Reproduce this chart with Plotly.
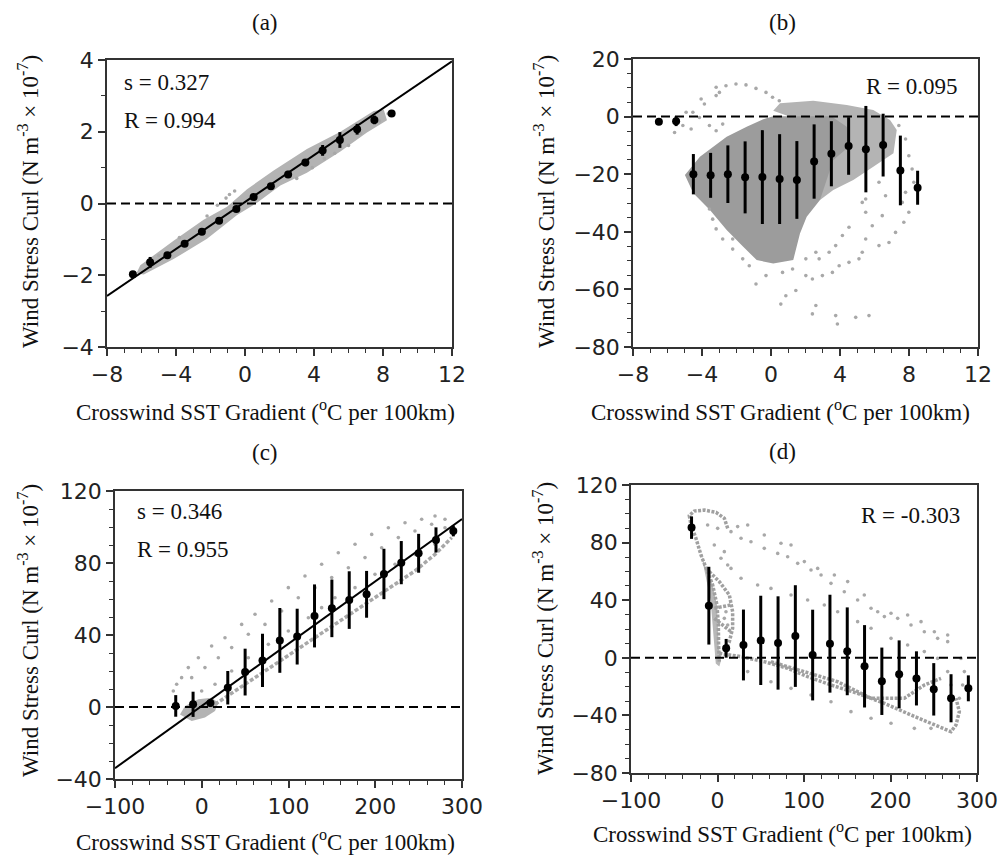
import plotly.graph_objects as go

# ---------------- Panel (a) ----------------
a_bin_x = [-6.5, -5.5, -4.5, -3.5, -2.5, -1.5, -0.5, 0.5, 1.5, 2.5, 3.5, 4.5, 5.5, 6.5, 7.5, 8.5]
a_mean = [-1.97, -1.64, -1.44, -1.12, -0.79, -0.48, -0.15, 0.18, 0.48, 0.81, 1.14, 1.48, 1.77, 2.07, 2.33, 2.51]
a_err = [0, 0.15, 0.05, 0.06, 0.07, 0.06, 0.05, 0.07, 0.07, 0.1, 0.1, 0.15, 0.22, 0.15, 0.12, 0]
a_slope, a_intercept = 0.327, 0.04
a_cloud_x = [-6.3, -6.07, -4.14, -2.40, -1.04, 0.12, 1.66, 3.59, 5.53, 7.46, 8.04,
             8.23, 7.07, 5.53, 3.59, 2.05, 0.70, -0.46, -2.20, -4.14, -5.87]
a_cloud_y = [-1.95, -1.72, -1.04, -0.45, -0.09, 0.40, 0.92, 1.52, 2.0, 2.58, 2.62,
             2.32, 1.98, 1.45, 0.86, 0.50, 0.02, -0.32, -0.98, -1.55, -1.98]
a_dots_x = [-1.1, -0.9, -0.6, -1.6, -2.2, 3.0, 3.9, 4.6, 5.2, 6.0, 6.7, 7.8, 8.3, -5.0, -3.8]
a_dots_y = [0.15, 0.25, 0.35, -0.05, -0.35, 0.70, 1.00, 1.25, 1.40, 1.62, 1.95, 2.30, 2.50, -1.45, -0.95]

# ---------------- Panel (b) ----------------
b_bin_x = [-6.5, -5.5, -4.5, -3.5, -2.5, -1.5, -0.5, 0.5, 1.5, 2.5, 3.5, 4.5, 5.5, 6.5, 7.5, 8.5]
b_mean = [-1.8, -1.6, -20.0, -20.4, -20.0, -21.1, -21.0, -21.7, -22.0, -15.6, -12.9, -10.2, -11.3, -9.9, -18.7, -24.7]
b_err = [0.5, 1.7, 7.0, 7.8, 10.0, 12.5, 16.3, 15.6, 13.5, 12.9, 11.3, 10.0, 15.0, 10.9, 12.1, 5.9]
b_halo_x = [0.13, 0.52, 2.45, 4.39, 5.93, 6.90, 7.29, 7.10, 5.93, 4.77, 3.61, 2.84, 2.50, 2.00]
b_halo_y = [2.0, 4.6, 5.5, 4.0, 2.3, -1.2, -4.65, -12.7, -17.4, -22.0, -25.5, -29.0, -15.0, -2.0]
b_dense_x = [-4.99, -4.12, -2.57, -1.41, -0.45, 0.13, 3.50, 4.39, 4.60, 3.61, 2.84, 2.07, 1.68, 1.29,
             0.13, -0.83, -1.61, -2.57, -3.54, -4.50]
b_dense_y = [-20.3, -13.9, -7.0, -3.5, -0.9, 0.1, 0.1, -3.5, -10.0, -15.1, -29.0, -34.8, -40.6, -49.8,
             -51.0, -49.8, -45.2, -39.4, -32.4, -26.6]
b_dots_x = [-3.18, -2.61, -2.03, -1.45, -0.87, -0.29, 0.09, 0.48, -4.05, -3.86, -3.18, -2.99, -4.92, -4.53,
            -4.15, -5.11, -4.63, -5.59, -3.57, -3.18, -2.80,
            7.41, 7.80, 7.99, 8.18, 8.28, 7.80, 7.61, 7.99, 7.70, 7.22, 6.84, 6.26, 6.64, 6.45, 5.87, 5.49,
            5.29, 5.10, 4.52, 3.95, 3.56, 2.98, 2.40, 2.02, 5.49, 5.49, 6.26, 5.29, 4.52, 4.14, 3.75, 3.37, 2.79,
            -0.87, -0.29, 0.67, 1.25, 2.02, 2.60, 0.86, 0.57, 1.44, 2.40, 2.60, 3.75, 3.85, 4.91, 5.68,
            -3.38, -3.18, -2.80, -2.22, -1.64, -1.26, -2.22, -3.57]
b_dots_y = [10.2, 10.7, 11.3, 11.0, 9.8, 8.4, 6.7, 5.5, 6.1, 4.4, 7.3, 8.4, 1.5, 1.5,
            -0.3, -3.1, -4.3, -5.5, -3.1, -4.9, -2.6,
            -3.1, -7.8, -13.6, -18.2, -22.8, -26.3, -29.8, -33.2, -36.7, -40.2, -43.7, -44.8, -27.5, -34.4, -37.9, -42.5,
            -47.1, -49.4, -50.6, -51.8, -54.1, -55.2, -56.4, -55.2, -28.6, -33.2, -22.8, -29.8, -38.4, -41.3, -44.8, -47.1, -49.4,
            -58.1, -55.2, -54.1, -52.9, -49.4, -47.1, -62.2, -65.1, -60.4, -68.5, -65.6, -69.1, -72.0, -69.7, -69.1,
            -35.6, -39.0, -42.5, -46.0, -49.4, -51.8, -42.5, -32.1]

# ---------------- Panel (c) ----------------
c_bin_x = [-30, -10, 10, 30, 50, 70, 90, 110, 130, 150, 170, 190, 210, 230, 250, 270, 290]
c_mean = [0.6, 1.5, 2.2, 10.7, 19.4, 25.9, 37.0, 39.1, 50.6, 54.8, 59.4, 62.6, 73.9, 80.2, 85.4, 92.8, 97.8]
c_err = [6.0, 7.0, 2.0, 9.3, 13.0, 14.8, 18.0, 15.5, 17.5, 16.0, 16.0, 13.0, 14.0, 12.0, 10.8, 7.0, 3.0]
c_slope, c_intercept = 0.346, 0.6
c_dots_x = [-32.8, -28.9, -23.2, -15.5, -3.9, 11.4, 26.8, 46.0, 61.4, 80.6, 99.8, 119.0, 138.2, 157.4, 176.7,
            195.9, 215.1, 234.3, 253.5, 268.9, 280.4,
            -11.6, 3.7, 19.1, 34.5, 53.7, 72.9, 92.1, 111.3, 130.5, 149.8, 169.0, 188.2, 207.4, 226.6, 245.8, 265.0, 280.4,
            -0.1, 15.3, 34.5, 53.7, 76.8, 99.8, 122.9, 138.2, 153.6, 176.7, 199.7, 222.8, 245.8, 268.9]
c_dots_y = [8.9, 12.6, 16.3, 21.9, 27.4, 33.9, 38.5, 45.9, 51.5, 58.9, 66.3, 72.8, 79.3, 85.7, 90.4,
            95.9, 99.6, 102.4, 104.3, 106.1, 104.3,
            16.3, 21.9, 27.4, 33.0, 40.4, 45.9, 53.3, 60.7, 66.3, 71.9, 77.4, 83.0, 88.5, 94.1, 97.8, 101.5, 99.6,
            8.9, 12.6, 20.0, 27.4, 34.8, 42.2, 49.6, 55.2, 60.7, 66.3, 73.7, 79.3, 84.8, 90.4]
c_band_x = [15.3, 38.3, 61.4, 84.4, 107.5, 130.5, 153.6, 176.7, 199.7, 222.8, 245.8, 268.9, 288.1]
c_band_y = [1.5, 8.9, 16.3, 23.7, 31.1, 38.5, 45.9, 53.3, 60.7, 68.1, 75.6, 84.8, 94.1]
c_loop_x = [-25.1, -11.6, 3.7, 15.3, 19.1, 11.4, -3.9, -19.3]
c_loop_y = [-4.1, -7.8, -5.9, -2.2, 2.4, 5.2, 4.3, 0.6]

# ---------------- Panel (d) ----------------
d_bin_x = [-30, -10, 10, 30, 50, 70, 90, 110, 130, 150, 170, 190, 210, 230, 250, 270, 290]
d_mean = [90.4, 36.2, 6.6, 8.9, 12.1, 10.3, 15.1, 1.9, 9.8, 4.5, -5.9, -16.3, -11.5, -14.3, -21.9, -28.1, -21.2]
d_err = [7.8, 27.0, 6.5, 24.6, 31.0, 32.4, 35.3, 31.5, 34.0, 30.5, 28.6, 23.4, 23.6, 18.8, 18.2, 16.7, 9.0]
d_curve_x = [11.8, 7.9, -1.7, -15.2, -26.8, -32.6, -30.6, -24.9, -19.1, -13.3, -5.6, -0.6, 1.0, 1.3, 2.1, None,
             -13.3, 2.1, 13.7, 17.5, 17.5, 13.7, 7.9, None,
             -3.7, 15.6, None, -3.7, 15.6, None,
             2.1, 27.2, 54.1, 81.1, 104.2, 131.2, 162.0, 192.9, 223.7, 250.7, 269.9, 275.7, 279.6, 275.7, None,
             61.8, 100.4, 138.9, 177.5, 216.0, 239.1, 258.4]
d_curve_y = [89.9, 96.9, 101.0, 102.6, 101.9, 98.7, 92.2, 83.0, 71.4, 62.1, 50.6, 36.7, 22.8, 8.9, -2.7, None,
             62.1, 52.9, 43.6, 32.0, 20.5, 11.2, 4.3, None,
             34.4, 36.7, None, 27.4, 18.1, None,
             3.1, 0.8, -2.7, -7.3, -13.1, -18.9, -24.7, -31.6, -39.7, -46.7, -51.3, -46.7, -37.4, -28.1, None,
             -2.7, -9.6, -16.6, -28.1, -28.1, -18.9, -14.3]
d_dense_x = [-30.6, -24.9, -13.3, -5.6, -0.6, 1.3, 4.0, 2.1, -2.0, -5.0, -8.0, -20.0]
d_dense_y = [92.2, 83.0, 62.1, 50.6, 36.7, 8.9, -2.0, -6.0, -4.0, 20.0, 40.0, 75.0]
d_dots_x = [15.6, 27.2, 38.7, 54.1, 69.6, 81.1, 92.7, 108.1, 119.7, 131.2, 146.6, 162.0, 177.5, 192.9, 208.3,
            223.7, 239.1, 254.5, 266.1,
            -11.4, 0.2, 23.3, 34.9, 54.1, 73.4, 85.0, 100.4, 115.8, 135.1, 150.5, 169.7, 185.2, 200.6, 219.8,
            235.3, 250.7, 266.1, 281.5, 285.4, 283.4, 279.6,
            -3.7, 4.0, 15.6, 27.2, 46.4, 61.8, 85.0, 104.2, 123.5, 138.9, 162.0, 177.5, 200.6, 219.8, 239.1,
            254.5, 266.1, 269.9,
            34.9, 61.8, 85.0, 108.1, 131.2, 154.3, 177.5, 200.6, 227.6, 246.8,
            7.9, 11.8, 7.9, 11.8, 9.8]
d_dots_y = [87.6, 83.0, 80.6, 76.0, 72.5, 70.2, 65.6, 61.0, 57.5, 51.7, 45.9, 40.1, 34.4, 28.6, 27.4,
            22.8, 18.1, 13.5, 11.2,
            92.2, 89.9, 91.1, 92.2, 85.3, 79.5, 78.3, 66.8, 62.1, 57.5, 52.9, 43.6, 32.0, 30.9, 29.7,
            25.1, 18.1, 15.8, -0.4, -9.6, -18.9, -28.1,
            78.3, 69.1, 62.1, 55.2, 50.6, 48.2, 43.6, 40.1, 36.7, 32.0, 25.1, 20.5, 13.5, 8.9, 4.3,
            -0.4, -9.6, -18.9,
            -9.6, -16.6, -21.2, -25.8, -30.5, -37.4, -42.0, -45.5, -49.0, -49.0,
            73.7, 64.4, 27.4, 22.8, 32.0]

# ---------------- Text ----------------
panel_titles = ["(a)", "(b)", "(c)", "(d)"]
ytitle = "Wind Stress Curl (N m<sup>-3</sup> × 10<sup>-7</sup>)"
xtitle = "Crosswind SST Gradient (<sup>o</sup>C per 100km)"

W, H = 1007, 855
GRAY = "#a8a8a8"
DENSE = "#9c9c9c"
HALO = "#b4b4b4"

fig = go.Figure()


def px(xp):
    return xp / W


def py(yp):
    return 1 - yp / H


# axis boxes in pixels (left, right, top, bottom)
boxes = {
    "a": (107, 452, 60, 347),
    "b": (633, 978, 59, 347),
    "c": (115, 462, 491, 779),
    "d": (631, 977, 485, 773),
}
axis_ids = {"a": ("x", "y"), "b": ("x2", "y2"), "c": ("x3", "y3"), "d": ("x4", "y4")}


def means_trace(xs, ys, es, ax):
    xa, ya = axis_ids[ax]
    return go.Scatter(x=xs, y=ys, mode="markers", xaxis=xa, yaxis=ya,
                      marker=dict(color="black", size=8),
                      error_y=dict(type="data", array=es, visible=True, color="black",
                                   thickness=3, width=0),
                      showlegend=False, hoverinfo="skip")


def dots_trace(xs, ys, ax, size=3.6, color=GRAY):
    xa, ya = axis_ids[ax]
    return go.Scatter(x=xs, y=ys, mode="markers", xaxis=xa, yaxis=ya,
                      marker=dict(color=color, size=size), showlegend=False, hoverinfo="skip")


def poly_trace(xs, ys, ax, color):
    xa, ya = axis_ids[ax]
    return go.Scatter(x=xs, y=ys, mode="lines", fill="toself", fillcolor=color,
                      line=dict(width=0, color=color), xaxis=xa, yaxis=ya,
                      showlegend=False, hoverinfo="skip")


def curve_trace(xs, ys, ax, width=3, color=GRAY, dash="solid"):
    xa, ya = axis_ids[ax]
    return go.Scatter(x=xs, y=ys, mode="lines", line=dict(width=width, color=color, dash=dash),
                      xaxis=xa, yaxis=ya, connectgaps=False, showlegend=False, hoverinfo="skip")


def fit_trace(slope, intercept, xr, ax):
    xa, ya = axis_ids[ax]
    return go.Scatter(x=list(xr), y=[slope * v + intercept for v in xr], mode="lines",
                      line=dict(color="black", width=2), xaxis=xa, yaxis=ya,
                      showlegend=False, hoverinfo="skip")


# Panel a
fig.add_trace(poly_trace(a_cloud_x, a_cloud_y, "a", "#b3b3b3"))
fig.add_trace(dots_trace(a_dots_x, a_dots_y, "a"))
fig.add_trace(fit_trace(a_slope, a_intercept, (-8, 12), "a"))
fig.add_trace(means_trace(a_bin_x, a_mean, a_err, "a"))

# Panel b
fig.add_trace(poly_trace(b_halo_x, b_halo_y, "b", HALO))
fig.add_trace(poly_trace(b_dense_x, b_dense_y, "b", DENSE))
fig.add_trace(dots_trace(b_dots_x, b_dots_y, "b"))
fig.add_trace(means_trace(b_bin_x, b_mean, b_err, "b"))

# Panel c
fig.add_trace(poly_trace(c_loop_x, c_loop_y, "c", "#b3b3b3"))
fig.add_trace(dots_trace(c_dots_x, c_dots_y, "c"))
fig.add_trace(curve_trace(c_band_x, c_band_y, "c", width=3.5, dash="4px,2px"))
fig.add_trace(fit_trace(c_slope, c_intercept, (-100, 300), "c"))
fig.add_trace(means_trace(c_bin_x, c_mean, c_err, "c"))

# Panel d
fig.add_trace(poly_trace(d_dense_x, d_dense_y, "d", "#b8b8b8"))
fig.add_trace(curve_trace(d_curve_x, d_curve_y, "d", width=3.5, color="#a0a0a0", dash="3px,1.5px"))
fig.add_trace(dots_trace(d_dots_x, d_dots_y, "d"))
fig.add_trace(means_trace(d_bin_x, d_mean, d_err, "d"))

tickfont = dict(family="DejaVu Sans", size=22, color="#222222")


def axis_cfg(rng, dtick, minor, domain, anchor):
    return dict(range=rng, dtick=dtick, tick0=rng[0], domain=domain, anchor=anchor,
                showgrid=False, zeroline=False, showline=True, mirror=True,
                linecolor="#333333", linewidth=1.5, automargin=False,
                ticks="outside", ticklen=7, tickwidth=1.5, tickcolor="#333333",
                tickfont=tickfont,
                minor=dict(dtick=minor, ticks="outside", ticklen=4, tickwidth=1.2,
                           tickcolor="#333333", showgrid=False))


ranges = {
    "a": ((-8, 12), 4, 1, (-4, 4), 2, 1),
    "b": ((-8, 12), 4, 1, (-80, 20), 20, 5),
    "c": ((-100, 300), 100, 20, (-40, 120), 40, 10),
    "d": ((-100, 300), 100, 20, (-80, 120), 40, 10),
}

layout_axes = {}
shapes = []
annotations = []
serif = "Liberation Serif"
title_centers = {"a": (265, 22), "b": (782, 22), "c": (265, 452), "d": (782, 451)}
xtitle_centers = {"a": (265, 410), "b": (780, 410), "c": (265, 840), "d": (782, 832)}
ytitle_centers = {"a": (28, 202), "b": (544, 202), "c": (28, 631), "d": (543, 629)}

for i, key in enumerate(["a", "b", "c", "d"]):
    l, r, t, b = boxes[key]
    xr, xd, xm, yr, yd, ym = ranges[key]
    xa, ya = axis_ids[key]
    xname = "xaxis" if xa == "x" else "xaxis" + xa[1:]
    yname = "yaxis" if ya == "y" else "yaxis" + ya[1:]
    layout_axes[xname] = axis_cfg(list(xr), xd, xm, [px(l), px(r)], ya)
    layout_axes[yname] = axis_cfg(list(yr), yd, ym, [py(b), py(t)], xa)
    shapes.append(dict(type="line", xref=xa + " domain", x0=0, x1=1, yref=ya, y0=0, y1=0,
                       line=dict(color="black", width=2, dash="9px,5px"), layer="above"))
    tx, ty = title_centers[key]
    annotations.append(dict(text=panel_titles[i], x=px(tx), y=py(ty), xref="paper", yref="paper",
                            showarrow=False, xanchor="center", yanchor="middle",
                            font=dict(family=serif, size=23, color="#111111")))
    tx, ty = xtitle_centers[key]
    annotations.append(dict(text=xtitle, x=px(tx), y=py(ty), xref="paper", yref="paper",
                            showarrow=False, xanchor="center", yanchor="middle",
                            font=dict(family=serif, size=23, color="#111111")))
    tx, ty = ytitle_centers[key]
    annotations.append(dict(text=ytitle, x=px(tx), y=py(ty), xref="paper", yref="paper",
                            showarrow=False, xanchor="center", yanchor="middle", textangle=-90,
                            font=dict(family=serif, size=23, color="#111111")))

stats = [("s = 0.327", 122, 82), ("R = 0.994", 122, 120), ("R = 0.095", 864, 86),
         ("s = 0.346", 135, 511), ("R = 0.955", 135, 549), ("R = -0.303", 859, 515)]
for txt, sx, sy in stats:
    annotations.append(dict(text=txt, x=px(sx), y=py(sy), xref="paper", yref="paper",
                            showarrow=False, xanchor="left", yanchor="middle",
                            font=dict(family=serif, size=23, color="#111111")))

fig.update_layout(width=W, height=H, margin=dict(l=0, r=0, t=0, b=0, pad=0, autoexpand=False),
                  paper_bgcolor="white", plot_bgcolor="white", hovermode=False,
                  shapes=shapes, annotations=annotations, showlegend=False, **layout_axes)

fig.write_html("out.html", config={"displayModeBar": False},
               post_script="document.body.style.margin='0px';document.body.style.overflow='hidden';")
